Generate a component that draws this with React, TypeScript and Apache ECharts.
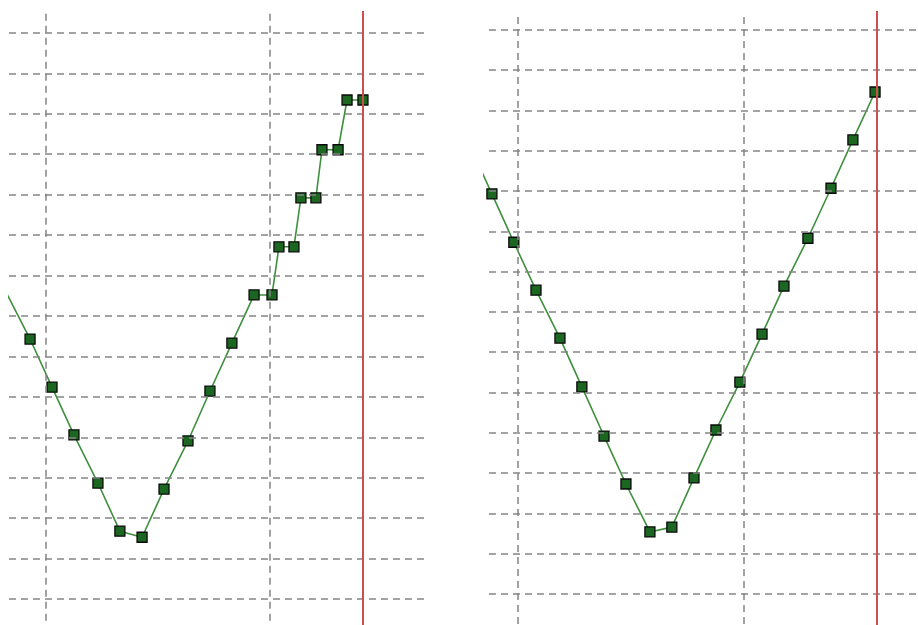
import React, { useEffect, useRef } from "react";
import * as echarts from "echarts";

// Left panel series (x in grid units: vertical grid every 10, y: one unit per horizontal grid line)
const leftX = [-1.83, -0.71, 0.27, 1.25, 2.32, 3.3, 4.29, 5.27, 6.34, 7.32, 8.3, 9.29, 10.09, 10.4, 11.07, 11.38, 12.05, 12.32, 13.04, 13.44, 14.15];
const leftY = [7.64, 6.43, 5.24, 4.06, 2.87, 1.68, 1.53, 2.72, 3.91, 5.14, 6.33, 7.52, 7.52, 8.71, 8.71, 9.92, 9.92, 11.11, 11.11, 12.34, 12.34];

// Right panel series
const rightX = [-2.12, -1.15, -0.18, 0.8, 1.86, 2.83, 3.81, 4.78, 5.84, 6.81, 7.79, 8.76, 9.82, 10.8, 11.77, 12.83, 13.85, 14.82, 15.8];
const rightY = [11.12, 9.93, 8.73, 7.54, 6.35, 5.14, 3.92, 2.73, 1.54, 1.66, 2.88, 4.07, 5.26, 6.45, 7.64, 8.83, 10.07, 11.27, 12.46];

// Grid line values
const horizontalLines = [0, 1, 2, 3, 4, 5, 6, 7, 8, 9, 10, 11, 12, 13, 14];
const verticalLines = [0, 10];
const leftCursor = 14.15;
const rightCursor = 15.88;

export default function App() {
  const ref = useRef<HTMLDivElement>(null);

  useEffect(() => {
    if (!ref.current) return;
    const chart = echarts.init(ref.current, null, { renderer: "svg" });

    const panels = [
      { xs: leftX, ys: leftY, cursor: leftCursor, xMin: -1.65, xMax: 16.92, yMin: -0.64, yMax: 14.54, hStart: -1.65, hEnd: 16.92, vTop: 14.47 },
      { xs: rightX, ys: rightY, cursor: rightCursor, xMin: -1.5, xMax: 17.7, yMin: -0.77, yMax: 14.47, hStart: -1.28, hEnd: 17.7, vTop: 14.32 },
    ];

    const gridStyle = { color: "#858585", width: 1.5, type: [7, 5] as any };

    const series: any[] = [];
    panels.forEach((p, i) => {
      series.push({
        type: "line",
        xAxisIndex: i,
        yAxisIndex: i,
        data: [],
        z: 1,
        silent: true,
        markLine: {
          silent: true,
          symbol: ["none", "none"],
          label: { show: false },
          lineStyle: gridStyle,
          data: [
            ...horizontalLines.map((v) => [{ coord: [p.hStart, v] }, { coord: [p.hEnd, v] }]),
            ...verticalLines.map((v) => [{ coord: [v, p.vTop] }, { coord: [v, p.yMin] }]),
          ],
        },
      });
      series.push({
        type: "line",
        xAxisIndex: i,
        yAxisIndex: i,
        z: 3,
        data: p.xs.map((x, k) => [x, p.ys[k]]),
        symbol: "rect",
        symbolSize: 10,
        showAllSymbol: true,
        clip: true,
        lineStyle: { color: "#3f8f3f", width: 1.6 },
        itemStyle: { color: "#1b6620", borderColor: "#0a0a0a", borderWidth: 1.3 },
      });
      series.push({
        type: "line",
        xAxisIndex: i,
        yAxisIndex: i,
        data: [],
        z: 5,
        silent: true,
        markLine: {
          silent: true,
          symbol: ["none", "none"],
          label: { show: false },
          lineStyle: { color: "#c9504f", width: 2, type: "solid" },
          data: [{ xAxis: p.cursor }],
        },
      });
    });

    chart.setOption({
      animation: false,
      backgroundColor: "#ffffff",
      grid: [
        { left: 9, right: 918 - 425, top: 11, bottom: 0 },
        { left: 484, right: 0, top: 11, bottom: 0 },
      ],
      xAxis: panels.map((p, i) => ({
        type: "value",
        gridIndex: i,
        min: p.xMin,
        max: p.xMax,
        show: false,
        splitLine: { show: false },
      })),
      yAxis: panels.map((p, i) => ({
        type: "value",
        gridIndex: i,
        min: p.yMin,
        max: p.yMax,
        show: false,
        splitLine: { show: false },
      })),
      series,
    });

    return () => chart.dispose();
  }, []);

  return (
    <div
      ref={ref}
      style={{ position: "fixed", left: 0, top: 0, width: 918, height: 625, background: "#fff" }}
    />
  );
}
